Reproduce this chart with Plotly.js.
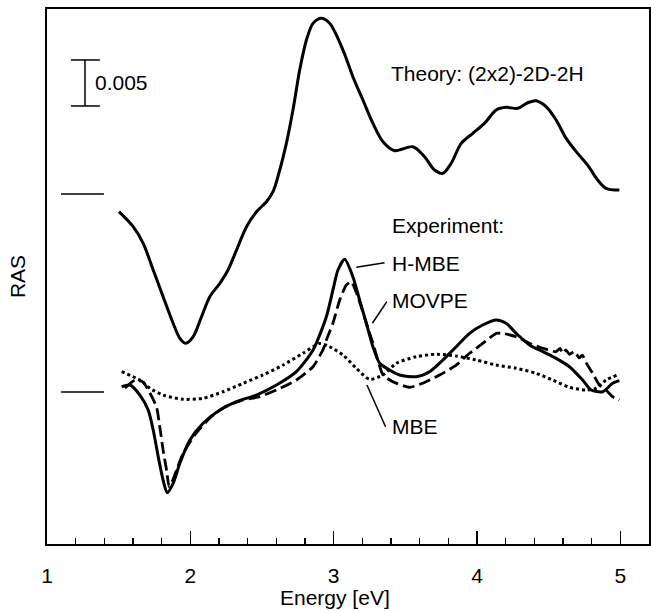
<!DOCTYPE html>
<html>
<head>
<meta charset="utf-8">
<script src="https://cdn.plot.ly/plotly-3.0.1.min.js"></script>
<style>
html,body{margin:0;padding:0;background:#fff;}
#chart{width:651px;height:611px;}
</style>
</head>
<body>
<div id="chart"></div>
<script>
// RAS values in units of 1e-3, relative to each curve's own zero line
const theoryE = [1.502,1.601,1.671,1.741,1.810,1.880,1.927,1.969,2.020,2.078,2.136,2.206,2.263,2.322,2.392,2.462,2.531,2.577,2.624,2.670,2.716,2.763,2.810,2.856,2.914,2.972,3.065,3.134,3.204,3.274,3.344,3.425,3.553,3.634,3.704,3.762,3.820,3.890,3.971,4.052,4.134,4.203,4.284,4.354,4.413,4.482,4.552,4.622,4.702,4.772,4.842,4.900,4.993];
const theoryRAS = [-1.92,-3.55,-5.36,-8.26,-11.16,-14.05,-15.68,-16.23,-15.51,-13.34,-11.16,-9.71,-8.26,-6.09,-3.55,-1.92,-0.84,0.25,2.61,5.51,9.13,13.48,16.74,18.55,19.10,18.55,15.65,12.75,10.22,7.68,5.68,4.71,5.14,4.05,2.61,2.25,3.34,5.51,6.60,7.68,9.13,9.42,9.32,9.92,10.14,9.49,8.04,6.05,4.42,3.15,1.52,0.62,0.43];

const hmbeE = [1.521,1.578,1.648,1.706,1.741,1.776,1.810,1.838,1.880,1.927,1.997,2.089,2.206,2.322,2.461,2.601,2.740,2.856,2.949,2.995,3.030,3.077,3.134,3.181,3.228,3.274,3.321,3.390,3.460,3.576,3.669,3.762,3.855,3.948,4.040,4.134,4.203,4.273,4.366,4.459,4.552,4.645,4.737,4.796,4.877,4.946,4.993];
const hmbeRAS = [0.58,0.76,-0.33,-1.96,-4.13,-7.03,-9.57,-10.95,-9.92,-7.75,-5.22,-3.40,-1.96,-1.05,-0.33,0.76,2.21,4.57,8.18,11.09,13.26,14.42,12.53,10.00,7.47,4.92,3.12,2.39,1.85,1.66,2.21,3.48,4.92,6.38,7.28,7.83,7.47,6.38,5.11,4.38,3.66,2.75,1.30,0.22,0.03,0.95,1.23];

const movpeE = [1.544,1.613,1.669,1.718,1.764,1.787,1.810,1.834,1.852,1.878,1.904,1.950,2.031,2.136,2.240,2.368,2.484,2.601,2.740,2.856,2.925,2.949,2.995,3.042,3.088,3.123,3.169,3.228,3.274,3.344,3.413,3.530,3.622,3.739,3.855,3.948,4.040,4.134,4.180,4.273,4.366,4.459,4.552,4.580,4.598,4.620,4.645,4.680,4.714,4.735,4.761,4.807,4.854,4.900,4.946,4.993];
const movpeRAS = [0.43,1.30,1.09,-0.11,-1.60,-3.77,-6.30,-8.48,-10.29,-9.57,-8.48,-6.66,-4.67,-2.83,-1.63,-0.87,-0.51,0.22,1.30,2.75,4.57,5.65,7.47,10.00,11.63,11.99,10.36,7.47,5.29,1.85,1.12,0.51,0.95,1.85,2.93,4.21,5.29,6.38,6.38,6.01,5.29,4.75,4.38,4.75,4.20,4.57,4.10,4.40,3.70,4.02,3.20,2.03,0.76,0.22,-0.51,-0.87];

const mbeE = [1.521,1.648,1.718,1.810,1.950,2.089,2.229,2.368,2.507,2.647,2.786,2.902,2.972,3.065,3.158,3.251,3.344,3.437,3.576,3.716,3.855,3.994,4.134,4.273,4.413,4.528,4.645,4.761,4.831,4.900,4.981];
const mbeRAS = [2.21,1.30,0.40,-0.33,-0.79,-0.68,0.03,0.95,1.85,2.93,4.21,5.27,4.92,4.02,2.58,1.38,1.85,3.12,3.84,4.10,3.91,3.48,2.93,2.58,2.03,1.30,0.51,0.22,0.40,1.30,1.85];

const xTicks = [1,2,3,4,5];
const scaleBarValue = 5;          // 0.005 RAS in units of 1e-3
const scaleBarLabel = "0.005";
const theoryLabel = "Theory: (2x2)-2D-2H";
const expLabel = "Experiment:";
const seriesLabels = ["H-MBE","MOVPE","MBE"];
const xTitle = "Energy [eV]";
const yTitle = "RAS";

const theoryOffset = 21.52;       // vertical offset of the theory curve
const FONT = "Liberation Sans, Arial, Helvetica, sans-serif";
const FS = 21;

const traces = [
  {x: theoryE, y: theoryRAS.map(v => v + theoryOffset), mode:'lines', line:{color:'#000', width:3, shape:'spline', smoothing:0.9}, hoverinfo:'skip'},
  {x: mbeE, y: mbeRAS, mode:'lines', line:{color:'#000', width:3, dash:'dot', shape:'spline', smoothing:0.7}, hoverinfo:'skip'},
  {x: movpeE, y: movpeRAS, mode:'lines', line:{color:'#000', width:2.8, dash:'12px,5px', shape:'spline', smoothing:0.5}, hoverinfo:'skip'},
  {x: hmbeE, y: hmbeRAS, mode:'lines', line:{color:'#000', width:3, shape:'spline', smoothing:0.7}, hoverinfo:'skip'}
];

const barX = 1.265, barTop = 36.09;
const shapes = [
  // zero reference markers
  {type:'line', xref:'x', yref:'y', x0:1.098, x1:1.397, y0:theoryOffset, y1:theoryOffset, line:{color:'#000', width:1.5}},
  {type:'line', xref:'x', yref:'y', x0:1.098, x1:1.397, y0:0, y1:0, line:{color:'#000', width:1.5}},
  // scale bar
  {type:'line', xref:'x', yref:'y', x0:barX, x1:barX, y0:barTop-scaleBarValue, y1:barTop, line:{color:'#000', width:1.5}},
  {type:'line', xref:'x', yref:'y', x0:1.167, x1:1.369, y0:barTop, y1:barTop, line:{color:'#000', width:1.5}},
  {type:'line', xref:'x', yref:'y', x0:1.167, x1:1.369, y0:barTop-scaleBarValue, y1:barTop-scaleBarValue, line:{color:'#000', width:1.5}},
  // leader lines
  {type:'line', xref:'x', yref:'y', x0:3.158, x1:3.355, y0:13.55, y1:14.05, line:{color:'#000', width:1.5}},
  {type:'line', xref:'x', yref:'y', x0:3.270, x1:3.371, y0:7.47, y1:9.82, line:{color:'#000', width:1.5}},
  {type:'line', xref:'x', yref:'y', x0:3.232, x1:3.362, y0:0.76, y1:-3.77, line:{color:'#000', width:1.5}}
];

const ann = (text, x, y) => ({text, x, y, xref:'x', yref:'y', xanchor:'left', yanchor:'middle', showarrow:false, borderpad:0, font:{family:FONT, size:FS, color:'#000'}});
const annotations = [
  ann(scaleBarLabel, 1.328, 33.59),
  ann(theoryLabel, 3.390, 34.67),
  ann(expLabel, 3.397, 18.15),
  ann(seriesLabels[0], 3.397, 14.02),
  ann(seriesLabels[1], 3.397, 10.0),
  ann(seriesLabels[2], 3.397, -3.80),
  {text:xTitle, xref:'paper', yref:'paper', x:0.4776, y:-0.1009, xanchor:'center', yanchor:'middle', showarrow:false, borderpad:0, font:{family:FONT, size:FS, color:'#000'}}
];

const layout = {
  width:651, height:611,
  margin:{l:47, r:2, t:9, b:67, pad:0},
  paper_bgcolor:'#fff', plot_bgcolor:'#fff',
  showlegend:false,
  font:{family:FONT, size:FS, color:'#000'},
  xaxis:{
    range:[1,5.2], tickvals:xTicks, ticktext:xTicks.map(String),
    ticks:'inside', ticklen:13, tickwidth:1.5, tickcolor:'#000',
    minor:{dtick:0.2, tick0:1, ticks:'inside', ticklen:6, tickwidth:1.5, tickcolor:'#000'},
    showline:true, linecolor:'#000', linewidth:2, mirror:true,
    showgrid:false, zeroline:false,
    ticklabelstandoff:12,
    tickfont:{family:FONT, size:FS, color:'#000'}
  },
  yaxis:{
    range:[-16.52, 41.63],
    showticklabels:false, ticks:'',
    showline:true, linecolor:'#000', linewidth:2, mirror:true,
    showgrid:false, zeroline:false,
    title:{text:yTitle, font:{family:FONT, size:FS, color:'#000'}, standoff:14}
  },
  shapes, annotations
};

Plotly.newPlot('chart', traces, layout, {staticPlot:true, displayModeBar:false});
</script>
</body>
</html>
